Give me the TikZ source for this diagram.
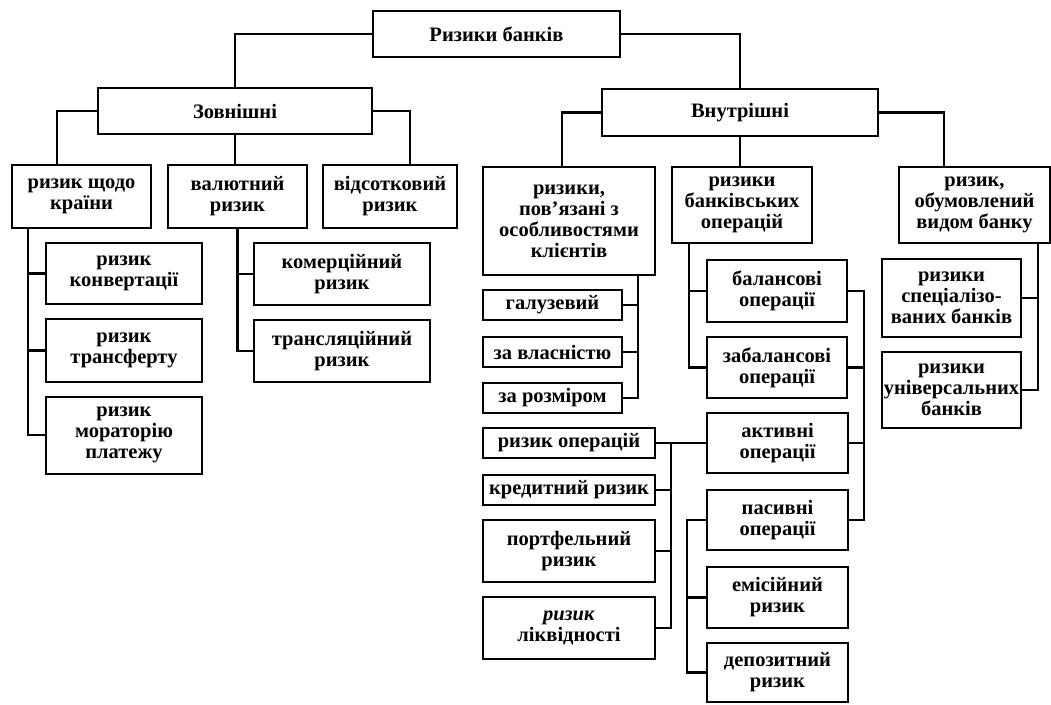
\documentclass[tikz,border=0pt]{standalone}
\usepackage{fontspec}
\setmainfont{Liberation Serif}
\begin{document}
\begin{tikzpicture}[x=1pt,y=-1pt,
    box/.style={draw,line width=2pt,align=center,inner sep=0pt,
      font=\bfseries\fontsize{20.5}{21}\selectfont},
    link/.style={line width=2.2pt}]
  \useasboundingbox (0,0) rectangle (1051,704);
  % top levels
  \node[box,minimum width=247pt,minimum height=46pt](top) at (496.5,34) {Ризики банків};
  \node[box,minimum width=274pt,minimum height=46pt](ext) at (235,111) {Зовнішні};
  \node[box,minimum width=276pt,minimum height=47pt](int) at (740,112.5) {Внутрішні};
  % external risks
  \node[box,minimum width=139pt,minimum height=63pt](country) at (81.5,196.5) {ризик щодо\\країни};
  \node[box,minimum width=139pt,minimum height=63pt](cur) at (237.5,196.5) {валютний\\ризик};
  \node[box,minimum width=134pt,minimum height=63pt](pct) at (390,196.5) {відсотковий\\ризик};
  \node[box,minimum width=156pt,minimum height=61pt](conv) at (124,273.5) {ризик\\конвертації};
  \node[box,minimum width=156pt,minimum height=63pt](transf) at (124,350.5) {ризик\\трансферту};
  \node[box,minimum width=156pt,minimum height=77pt](morat) at (124,435) {ризик\\мораторію\\платежу};
  \node[box,minimum width=176pt,minimum height=62pt](comm) at (342,274) {комерційний\\ризик};
  \node[box,minimum width=176pt,minimum height=62pt](transl) at (342,351) {трансляційний\\ризик};
  % internal risks
  \node[box,minimum width=172pt,minimum height=108pt](clients) at (569,221) {ризики,\\пов’язані з\\особливостями\\клієнтів};
  \node[box,minimum width=140pt,minimum height=76pt](bankops) at (742,205) {ризики\\банківських\\операцій};
  \node[box,minimum width=151pt,minimum height=76pt](banktype) at (974.5,205) {ризик,\\обумовлений\\видом банку};
  \node[box,minimum width=139pt,minimum height=30pt](branch) at (552.5,305) {галузевий};
  \node[box,minimum width=139pt,minimum height=30pt](owner) at (552.5,352) {за власністю};
  \node[box,minimum width=139pt,minimum height=30pt](size) at (552.5,398) {за розміром};
  \node[box,minimum width=140pt,minimum height=62pt](balance) at (777,291) {балансові\\операції};
  \node[box,minimum width=140pt,minimum height=61pt](offbal) at (777,367.5) {забалансові\\операції};
  \node[box,minimum width=141pt,minimum height=60pt](active) at (777.5,443) {активні\\операції};
  \node[box,minimum width=141pt,minimum height=60pt](passive) at (777.5,520) {пасивні\\операції};
  \node[box,minimum width=141pt,minimum height=61pt](emission) at (777.5,597.5) {емісійний\\ризик};
  \node[box,minimum width=141pt,minimum height=59pt](deposit) at (777.5,672.5) {депозитний\\ризик};
  \node[box,minimum width=172pt,minimum height=30pt](opsrisk) at (569,443) {ризик операцій};
  \node[box,minimum width=172pt,minimum height=30pt](credit) at (569,490) {кредитний ризик};
  \node[box,minimum width=172pt,minimum height=62pt](portf) at (569,551) {портфельний\\ризик};
  \node[box,minimum width=172pt,minimum height=62pt](liquid) at (569,628) {\textit{ризик}\\ліквідності};
  \node[box,minimum width=139pt,minimum height=78pt](special) at (951.5,298) {ризики\\спеціалізо-\\ваних банків};
  \node[box,minimum width=139pt,minimum height=76pt](univ) at (951.5,390) {ризики\\універсальних\\банків};
  % connectors
  \draw[link] (top.west) -| (ext.north);
  \draw[link] (top.east) -| (int.north);
  \draw[link] (ext.west) -| ([xshift=-24.5pt]country.north);
  \draw[link] (ext.south) -- (ext.south |- cur.north);
  \draw[link] (ext.east) -| ([xshift=20pt]pct.north);
  \draw[link] (int.west) -| ([xshift=-7pt]clients.north);
  \draw[link] (int.south) -- (int.south |- bankops.north);
  \draw[link] (int.east) -| ([xshift=-30.5pt]banktype.north);
  \coordinate (cs) at ([xshift=17pt]country.south west);
  \draw[link] (cs) |- (conv.west);
  \draw[link] (cs) |- (transf.west);
  \draw[link] (cs) |- (morat.west);
  \draw[link] (cur.south) |- (comm.west);
  \draw[link] (cur.south) |- (transl.west);
  \coordinate (cl) at ([xshift=69pt]clients.south);
  \draw[link] (cl) |- (branch.east);
  \draw[link] (cl) |- (owner.east);
  \draw[link] (cl) |- (size.east);
  \coordinate (bo) at ([xshift=18pt]bankops.south west);
  \draw[link] (bo) |- (balance.west);
  \draw[link] (bo) |- (offbal.west);
  \coordinate (rb) at ([xshift=15pt]passive.east);
  \draw[link] (balance.east) -| (rb) -- (passive.east);
  \draw[link] (offbal.east) -- (offbal.east -| rb);
  \draw[link] (active.east) -- (active.east -| rb);
  \draw[link] (opsrisk.east) -- (active.west);
  \coordinate (lb) at ([xshift=15pt]opsrisk.east);
  \draw[link] (lb) |- (liquid.east);
  \draw[link] (credit.east) -- (credit.east -| lb);
  \draw[link] (portf.east) -- (portf.east -| lb);
  \coordinate (pb) at ([xshift=-19pt]deposit.west);
  \draw[link] (passive.west) -| (pb) -- (deposit.west);
  \draw[link] (emission.west) -- (emission.west -| pb);
  \coordinate (tb) at ([xshift=-13pt]banktype.south east);
  \draw[link] (tb) |- (special.east);
  \draw[link] (tb) |- (univ.east);
\end{tikzpicture}
\end{document}
